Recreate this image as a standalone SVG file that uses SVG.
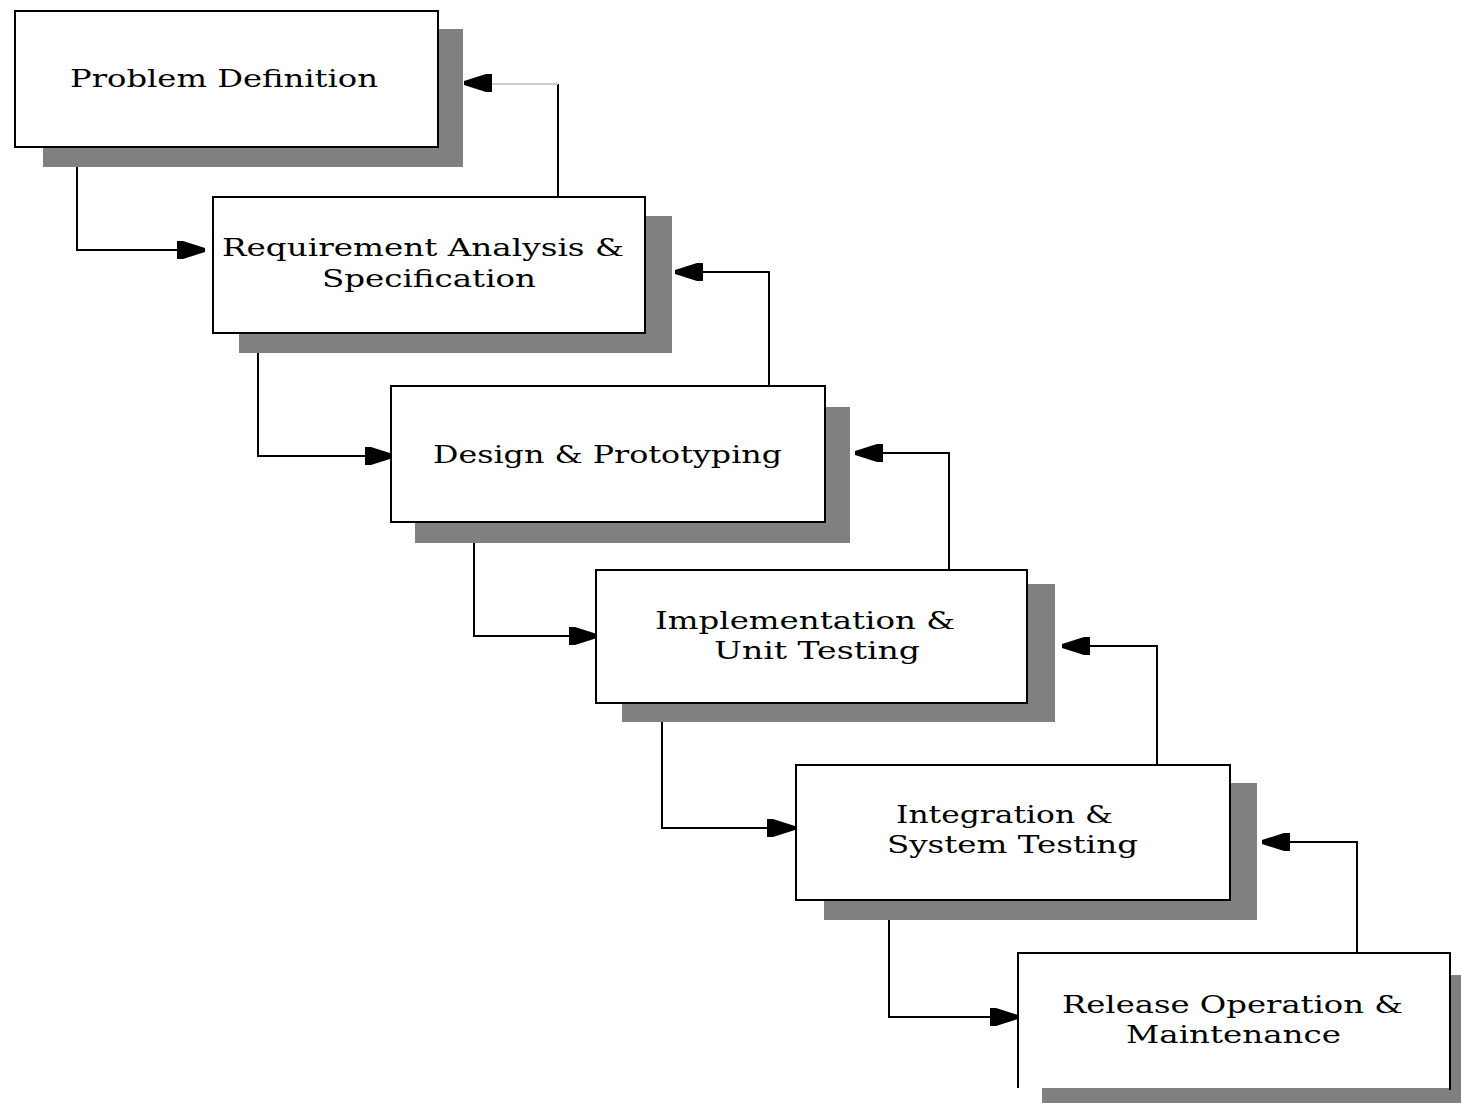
<svg xmlns="http://www.w3.org/2000/svg" width="1461" height="1103" viewBox="0 0 1461 1103">
<style>
.sh{fill:#808080}
.bx{fill:#fff;stroke:#000;stroke-width:2}
.t{font-family:"DejaVu Serif","Liberation Serif",serif;font-size:24px;fill:#000}
.c{fill:none;stroke:#000;stroke-width:2}
</style>
<defs>
<marker id="ah" markerUnits="userSpaceOnUse" markerWidth="30" markerHeight="22" refX="28" refY="11" orient="auto">
<path d="M0,2 L6,2 L28,9 L28,13 L6,20 L0,20 Z" fill="#000"/>
</marker>
</defs>
<rect width="1461" height="1103" fill="#fff"/>
<g id="connectors">
<path class="c" d="M77,167 V250 H205" marker-end="url(#ah)"/>
<path class="c" d="M558,196 V84"/>
<path d="M558,84 H492" fill="none" stroke="#ccc" stroke-width="2"/>
<path class="c" d="M492,83 H464" marker-end="url(#ah)"/>
<path class="c" d="M258,353 V456 H393" marker-end="url(#ah)"/>
<path class="c" d="M769,386 V272 H675" marker-end="url(#ah)"/>
<path class="c" d="M474,543 V636 H597" marker-end="url(#ah)"/>
<path class="c" d="M949,570 V453 H855" marker-end="url(#ah)"/>
<path class="c" d="M662,722 V828 H795" marker-end="url(#ah)"/>
<path class="c" d="M1157,765 V646 H1062" marker-end="url(#ah)"/>
<path class="c" d="M889,920 V1017 H1018" marker-end="url(#ah)"/>
<path class="c" d="M1357,953 V842 H1262" marker-end="url(#ah)"/>
</g>
<g id="n1">
<rect class="sh" x="43" y="29" width="420" height="138"/>
<rect class="bx" x="15" y="11" width="423" height="136"/>
<text class="t" x="70" y="87" textLength="308" lengthAdjust="spacingAndGlyphs">Problem Definition</text>
</g>
<g id="n2">
<rect class="sh" x="239" y="216" width="433" height="137"/>
<rect class="bx" x="213" y="197" width="432" height="136"/>
<text class="t" x="222" y="256" textLength="402" lengthAdjust="spacingAndGlyphs">Requirement Analysis &amp;</text>
<text class="t" x="322" y="287" textLength="214" lengthAdjust="spacingAndGlyphs">Specification</text>
</g>
<g id="n3">
<rect class="sh" x="415" y="407" width="435" height="136"/>
<rect class="bx" x="391" y="386" width="434" height="136"/>
<text class="t" x="433" y="463" textLength="349" lengthAdjust="spacingAndGlyphs">Design &amp; Prototyping</text>
</g>
<g id="n4">
<rect class="sh" x="622" y="584" width="433" height="138"/>
<rect class="bx" x="596" y="570" width="431" height="133"/>
<text class="t" x="655" y="629" textLength="300" lengthAdjust="spacingAndGlyphs">Implementation &amp;</text>
<text class="t" x="714" y="659" textLength="206" lengthAdjust="spacingAndGlyphs">Unit Testing</text>
</g>
<g id="n5">
<rect class="sh" x="824" y="783" width="433" height="137"/>
<rect class="bx" x="796" y="765" width="434" height="135"/>
<text class="t" x="896" y="823" textLength="217" lengthAdjust="spacingAndGlyphs">Integration &amp;</text>
<text class="t" x="887" y="853" textLength="251" lengthAdjust="spacingAndGlyphs">System Testing</text>
</g>
<g id="n6">
<rect class="sh" x="1042" y="975" width="419" height="128"/>
<rect x="1018" y="953" width="432" height="135" fill="#fff"/>
<path d="M1018,1088 V953 H1450 V1090" fill="none" stroke="#000" stroke-width="2"/>
<text class="t" x="1062" y="1013" textLength="341" lengthAdjust="spacingAndGlyphs">Release Operation &amp;</text>
<text class="t" x="1126" y="1043" textLength="215" lengthAdjust="spacingAndGlyphs">Maintenance</text>
</g>
</svg>
